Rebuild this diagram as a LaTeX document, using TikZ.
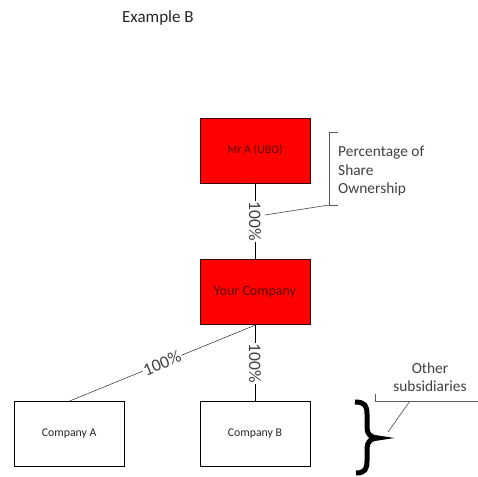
\documentclass[tikz,border=0pt]{standalone}
\usepackage{fontspec}
\setmainfont{Carlito}
\usepackage{tikz}
\usetikzlibrary{positioning}
\definecolor{boxred}{HTML}{FF0000}
\definecolor{darkborder}{HTML}{3A0A0A}
\definecolor{labelred}{HTML}{5A0000}
\definecolor{notegray}{HTML}{404040}
\definecolor{leadgray}{HTML}{5A5A5A}

\begin{document}
\begin{tikzpicture}[x=1pt, y=1pt, node distance=76pt,
	whitebox/.style={rectangle, draw=black, line width=0.8pt, minimum width=110pt, minimum height=65pt, font=\fontsize{11.8}{14}\selectfont, text=black!85},
	redbox/.style={whitebox, fill=boxred, draw=darkborder, text=labelred},
	pct/.style={fill=white, inner sep=1pt, text=notegray, font=\fontsize{17.5}{20}\selectfont},
	note/.style={text=notegray, font=\fontsize{15.4}{18.5}\selectfont, inner sep=0pt},
	leader/.style={draw=leadgray, line width=0.7pt}]
	\useasboundingbox (0,0) rectangle (478,-476);
	\node[anchor=base west, inner sep=0pt, font=\fontsize{17}{20}\selectfont, text=black!85] (Title) at (122,-23) {Example B};
	\node[redbox] (MrA) at (255,-150.5) {Mr A (UBO)};
	\node[redbox, below=of MrA, font=\fontsize{14}{16}\selectfont] (YourCo) {Your Company};
	\node[whitebox, below=of YourCo] (CoB) {Company B};
	\node[whitebox, left=75pt of CoB] (CoA) {Company A};
	
	\draw (MrA) -- node[pct, rotate=-90] (PctUp) {100\%} (YourCo);
	\draw (YourCo.south) -- node[pct, sloped] (PctA) {100\%} (CoA.north);
	\draw (YourCo) -- node[pct, rotate=-90] (PctB) {100\%} (CoB);
	
	% callout for the percentages
	\coordinate (PctTop) at (329,-132);
	\coordinate (PctBot) at (329,-205);
	\coordinate (PctTip) at (265,-215);
	\draw[leader] ([xshift=9pt]PctTop) -- (PctTop) -- (PctBot) -- ([xshift=9pt]PctBot);
	\draw[leader] (PctBot) -- (PctTip);
	\node[note, align=left, anchor=north west] (PctNote) at (338,-146) {Percentage of\\Share\\Ownership};
	
	% callout for the subsidiaries
	\coordinate (SubLeft) at (375,-401);
	\coordinate (SubRight) at (478,-401);
	\coordinate (SubFoot) at (410,-401);
	\coordinate (SubTip) at (388,-432);
	\draw[leader] ([yshift=7pt]SubLeft) -- (SubLeft) -- (SubRight);
	\draw[leader] (SubFoot) -- (SubTip);
	\node[note, align=center] (SubNote) at (430,-377) {Other\\subsidiaries};
	
	\draw[line width=5pt] (355,-402) .. controls (365,-402) and (367,-406) .. (367,-414) -- (367,-428) .. controls (367,-434) and (371,-438) .. (378,-438) .. controls (371,-438) and (367,-442) .. (367,-448) -- (367,-461) .. controls (367,-469) and (365,-473) .. (356,-473);
\end{tikzpicture}
\end{document}
